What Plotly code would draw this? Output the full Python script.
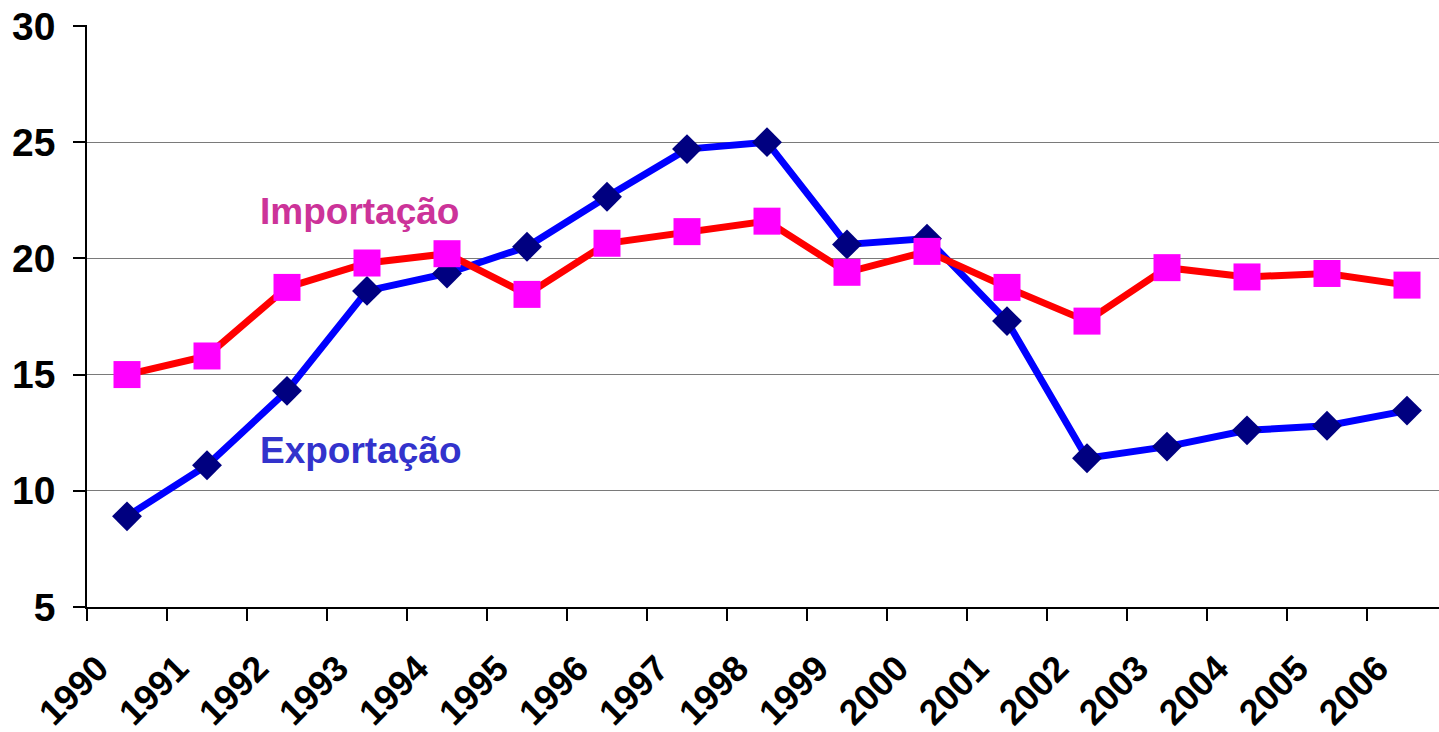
import plotly.graph_objects as go

years = ["1990", "1991", "1992", "1993", "1994", "1995", "1996", "1997", "1998",
         "1999", "2000", "2001", "2002", "2003", "2004", "2005", "2006"]
exportacao = [8.9, 11.1, 14.3, 18.6, 19.35, 20.5, 22.65, 24.7, 25.0,
              20.6, 20.85, 17.3, 11.4, 11.9, 12.6, 12.8, 13.45]
importacao = [15.0, 15.8, 18.75, 19.8, 20.2, 18.45, 20.65, 21.15, 21.6,
              19.4, 20.3, 18.75, 17.3, 19.6, 19.2, 19.35, 18.85]
yticks = [5, 10, 15, 20, 25, 30]

FONT = "Liberation Sans, Arial, sans-serif"

fig = go.Figure()
fig.add_trace(go.Scatter(
    x=years, y=exportacao, mode="lines+markers", name="Exportação",
    line=dict(color="#0000FF", width=7),
    marker=dict(symbol="diamond", size=23, color="#000080", line=dict(width=0)),
    cliponaxis=False,
))
fig.add_trace(go.Scatter(
    x=years, y=importacao, mode="lines+markers", name="Importação",
    line=dict(color="#FF0000", width=7),
    marker=dict(symbol="square", size=27, color="#FF00FF", line=dict(width=0)),
    cliponaxis=False,
))

fig.add_annotation(x=2.9, y=22.0, text="Importação", showarrow=False,
                   font=dict(family=FONT, size=37, color="#CC3399", weight="bold"))
fig.add_annotation(x=2.92, y=11.75, text="Exportação", showarrow=False,
                   font=dict(family=FONT, size=37, color="#3333CC", weight="bold"))

fig.update_layout(
    width=1439, height=732,
    margin=dict(l=87, r=0, t=25, b=125, autoexpand=False),
    paper_bgcolor="white", plot_bgcolor="white",
    showlegend=False,
    font=dict(family=FONT, color="black"),
)
fig.update_xaxes(
    type="category", range=[-0.5, 16.4], automargin=False,
    tickson="boundaries", ticks="outside", ticklen=12, tickwidth=1.5, tickcolor="black",
    showline=True, linecolor="black", linewidth=1.5,
    showgrid=False, zeroline=False,
    tickangle=-45, tickfont=dict(family=FONT, size=36, weight="bold", color="black"),
    ticklabelshift=-29, ticklabelstandoff=24, ticklabeloverflow="allow",
)
fig.update_yaxes(
    range=[5, 30.04], tickvals=yticks, ticktext=[str(v) for v in yticks], automargin=False,
    ticks="outside", ticklen=12, tickwidth=1.5, tickcolor="black",
    showline=True, linecolor="black", linewidth=1.5,
    showgrid=True, gridcolor="#7a7a7a", gridwidth=1.3, zeroline=False,
    tickfont=dict(family=FONT, size=39, weight="bold", color="black"),
    ticklabelstandoff=10, ticklabeloverflow="allow",
)

fig.write_html("out.html",
               config={"displayModeBar": False},
               post_script="document.body.style.margin='0';document.body.style.overflow='hidden';")
